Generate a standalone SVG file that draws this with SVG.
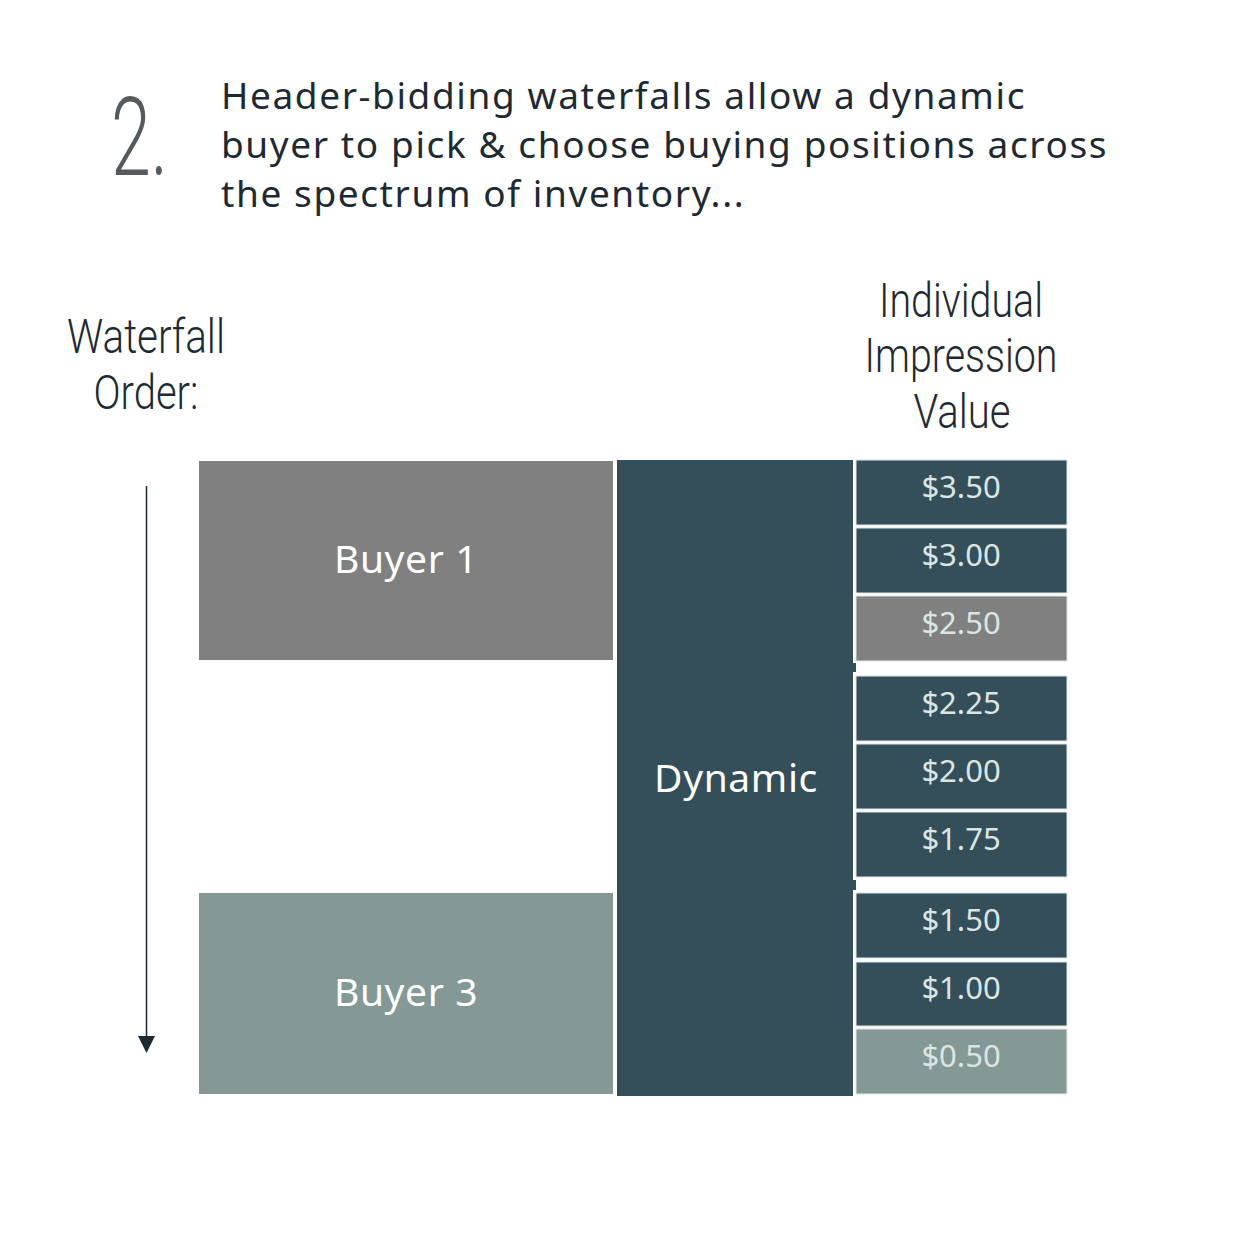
<svg xmlns="http://www.w3.org/2000/svg" width="1233" height="1243" viewBox="0 0 1233 1243">
<defs>
<style>
.hdr{font-family:"Noto Sans","Open Sans","Liberation Sans",sans-serif;font-size:37px;letter-spacing:1.6px;fill:#1e2a33}
.cond{font-family:Roboto,"DejaVu Sans",sans-serif;font-weight:300;font-size:48px;fill:#1e2a33;text-anchor:middle}
.num{font-family:Roboto,"DejaVu Sans",sans-serif;font-weight:300;font-size:110px;fill:#555a5e}
.lbl{font-family:"Noto Sans","Open Sans","Liberation Sans",sans-serif;font-size:39px;letter-spacing:0.6px;fill:#ffffff;text-anchor:middle}
.price{font-family:"Noto Sans","Open Sans","Liberation Sans",sans-serif;font-size:31px;fill:#dbe5e2;text-anchor:middle}
.pbox{stroke:#e3e8e8;stroke-width:1}
.dark{fill:#344f5a}
</style>
<marker id="arrow" markerWidth="17" markerHeight="17" refX="0" refY="8.5" orient="auto" markerUnits="userSpaceOnUse" viewBox="0 0 17 17">
<polygon points="0,0 17,8.5 0,17" fill="#1e2a33"/>
</marker>
</defs>
<rect width="1233" height="1243" fill="#ffffff"/>

<g id="title">
<text class="num" x="111" y="175" textLength="57" lengthAdjust="spacingAndGlyphs">2.</text>
<text class="hdr" x="221" y="109">Header-bidding waterfalls allow a dynamic</text>
<text class="hdr" x="221" y="158">buyer to pick &amp; choose buying positions across</text>
<text class="hdr" x="221" y="207">the spectrum of inventory...</text>
</g>

<g id="waterfall-order-label">
<text class="cond" x="146" y="353" textLength="158" lengthAdjust="spacingAndGlyphs">Waterfall</text>
<text class="cond" x="146" y="409" textLength="105" lengthAdjust="spacingAndGlyphs">Order:</text>
</g>

<g id="impression-value-label">
<text class="cond" x="961" y="317" textLength="164" lengthAdjust="spacingAndGlyphs">Individual</text>
<text class="cond" x="961" y="372" textLength="193" lengthAdjust="spacingAndGlyphs">Impression</text>
<text class="cond" x="962" y="428" textLength="97" lengthAdjust="spacingAndGlyphs">Value</text>
</g>

<g id="buyer1">
<rect x="199" y="461" width="414" height="199" fill="#808080"/>
<text class="lbl" x="406" y="573">Buyer 1</text>
</g>

<g id="buyer3">
<rect x="199" y="893" width="414" height="201" fill="#849995"/>
<text class="lbl" x="406" y="1006">Buyer 3</text>
</g>

<g id="dynamic">
<rect class="dark" x="617" y="460" width="236" height="636"/>
<rect class="dark" x="852" y="663" width="4" height="9"/>
<rect class="dark" x="852" y="880" width="4" height="10"/>
<text class="lbl" x="736" y="792">Dynamic</text>
</g>

<g id="price-350"><rect class="pbox dark" x="856" y="460" width="211" height="65"/><text class="price" x="961" y="498">$3.50</text></g>
<g id="price-300"><rect class="pbox dark" x="856" y="528" width="211" height="65"/><text class="price" x="961" y="566">$3.00</text></g>
<g id="price-250"><rect class="pbox" fill="#808080" x="856" y="596" width="211" height="65"/><text class="price" x="961" y="634">$2.50</text></g>
<g id="price-225"><rect class="pbox dark" x="856" y="676" width="211" height="65"/><text class="price" x="961" y="714">$2.25</text></g>
<g id="price-200"><rect class="pbox dark" x="856" y="744" width="211" height="65"/><text class="price" x="961" y="782">$2.00</text></g>
<g id="price-175"><rect class="pbox dark" x="856" y="812" width="211" height="65"/><text class="price" x="961" y="850">$1.75</text></g>
<g id="price-150"><rect class="pbox dark" x="856" y="893" width="211" height="65"/><text class="price" x="961" y="931">$1.50</text></g>
<g id="price-100"><rect class="pbox dark" x="856" y="962" width="211" height="64"/><text class="price" x="961" y="999">$1.00</text></g>
<g id="price-050"><rect class="pbox" fill="#849995" x="856" y="1029" width="211" height="65"/><text class="price" x="961" y="1067">$0.50</text></g>

<g id="connectors">
<line x1="146.5" y1="486" x2="146.5" y2="1036" stroke="#1e2a33" stroke-width="1.5" marker-end="url(#arrow)"/>
</g>
</svg>
